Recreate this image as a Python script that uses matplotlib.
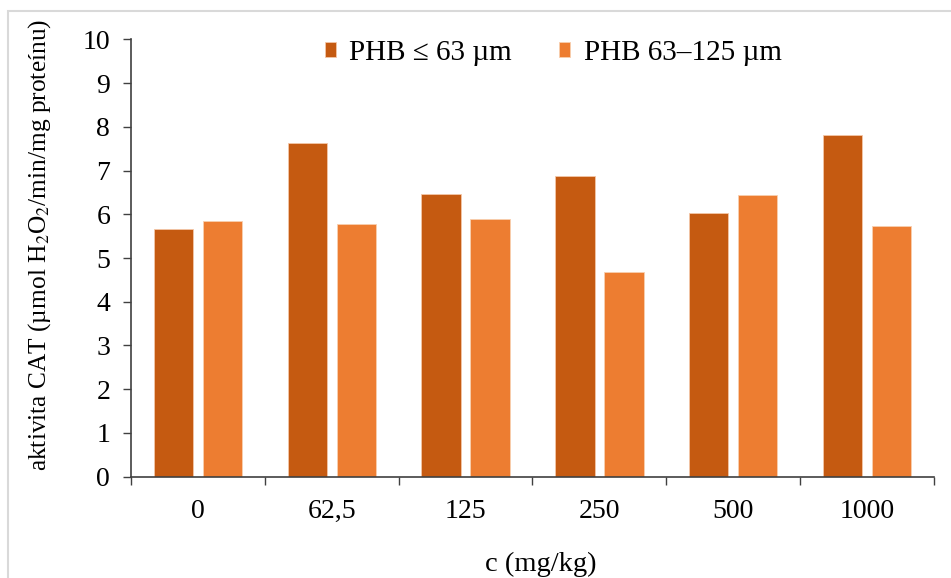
import numpy as np
import matplotlib
matplotlib.use("Agg")
import matplotlib.pyplot as plt
from matplotlib.patches import Rectangle

plt.rcParams['font.family'] = ['Liberation Serif', 'DejaVu Serif']
plt.rcParams['mathtext.fontset'] = 'stix'

# data
categories = ["0", "62,5", "125", "250", "500", "1000"]
phb_small = [5.66, 7.62, 6.46, 6.87, 6.04, 7.81]   # PHB <= 63 um
phb_large = [5.85, 5.78, 5.89, 4.67, 6.44, 5.73]   # PHB 63-125 um
series_names = ["PHB \u2264 63 \u00b5m", "PHB 63\u2013125 \u00b5m"]
colors = ["#C55A11", "#ED7D31"]

fig = plt.figure(figsize=(9.51, 5.78), dpi=100)
ax = fig.add_axes([131 / 951, 1 - 476.7 / 578, (934 - 131) / 951, (476.7 - 39.3) / 578])

x = np.arange(len(categories))
w = 0.294
off = 0.183
b1 = ax.bar(x - off, phb_small, w, color=colors[0], edgecolor="#F4C7A8", linewidth=0.6,
            label=series_names[0])
b2 = ax.bar(x + off, phb_large, w, color=colors[1], edgecolor="#F8CFB0", linewidth=0.6,
            label=series_names[1])

ax.set_xlim(-0.5, len(categories) - 0.5)
ax.set_ylim(0, 10)
ax.set_yticks(np.arange(0, 11, 1))

# ticks at category borders, labels at centres
ax.set_xticks(np.arange(-0.5, len(categories), 1))
ax.set_xticklabels([])
ax.set_xticks(x, minor=True)
ax.set_xticklabels(categories, minor=True)
ax.tick_params(axis="x", which="major", length=6, width=1, color="#404040", direction="out")
ax.tick_params(axis="x", which="minor", length=0, pad=16, labelsize=20)
ax.tick_params(axis="y", length=6, width=1, color="#404040", direction="out", labelsize=20, pad=9)

for s in ["top", "right"]:
    ax.spines[s].set_visible(False)
for s in ["left", "bottom"]:
    ax.spines[s].set_color("#404040")
    ax.spines[s].set_linewidth(1.2)

fig.text(541 / 951, 1 - 571 / 578, "c (mg/kg)", ha="center", va="baseline", fontsize=20.5)
fig.text(40 / 951, 1 - 245 / 578, r"aktivita CAT (µmol H$_2$O$_2$/min/mg proteínu)",
         ha="center", va="center", rotation=90, fontsize=18.3)

fig.legend(handles=[b1, b2], loc="center", bbox_to_anchor=(553 / 951, 1 - 53 / 578),
           ncol=2, frameon=False, fontsize=21, handlelength=0.4, handleheight=0.4,
           handletextpad=0.45, columnspacing=1.6)

# light frame around the chart area
fig.patches.append(Rectangle((7.5 / 951, -0.05), 1.1, 1.05 - 10.5 / 578, transform=fig.transFigure,
                             fill=False, edgecolor="#D9D9D9", linewidth=1.5))

fig.savefig("out.png", dpi=100)
